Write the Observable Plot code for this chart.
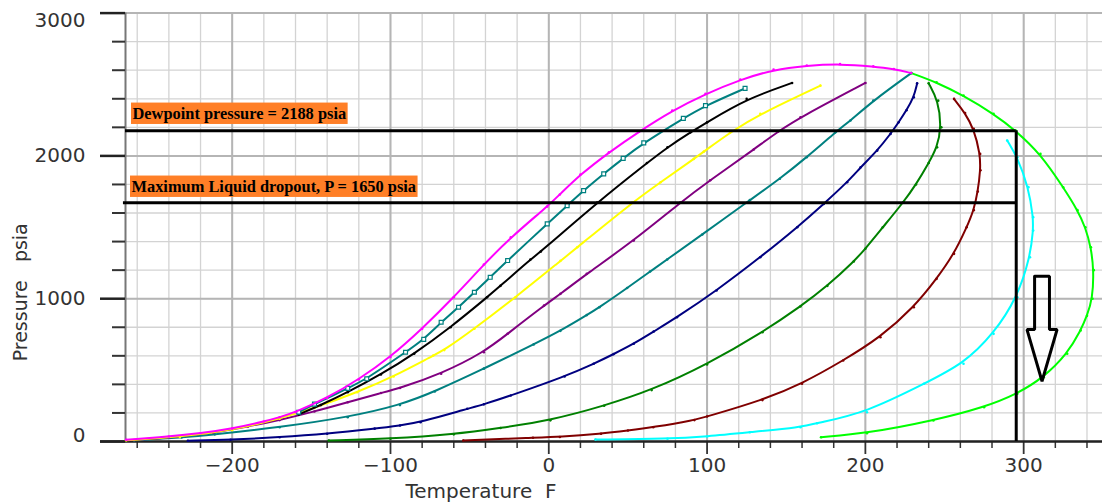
<!DOCTYPE html>
<html><head><meta charset="utf-8">
<script src="https://cdn.jsdelivr.net/npm/d3@7"></script>
<script src="https://cdn.jsdelivr.net/npm/@observablehq/plot@0.6"></script>
<style>html,body{margin:0;padding:0;background:#fff;} #chart svg{display:block}</style>
</head><body><div id="chart"></div>
<script>
// ---- Data (Temperature F, Pressure psia) ----
const bubbleCurve = [[-267,12],[-240,35],[-220,58],[-200,90],[-180,140],[-170,170],[-160,205],[-140,305],[-120,435],[-100,592],[-80,790],[-60,1010],[-41,1240],[-24,1430],[-1,1645],[7,1730],[20,1870],[38,2025],[57,2170],[78,2317],[99,2434],[121,2534],[142,2604],[163,2632],[184,2644],[205,2627],[218,2609],[229,2580]];
const dewCurve = [[229,2580],[245,2515],[262,2422],[281,2294],[295,2177],[310.6,2014],[325,1780],[334,1620],[339,1500],[342.5,1360],[344.3,1200],[343.5,1000],[340,880],[336,777],[327.5,614],[312.7,450],[296,334],[275,240],[243,147],[201,58],[172,30]];
const qTeal1 = [[-158,205],[-148,262],[-127,372],[-115,439],[-90.5,625],[-79,715],[-68,835],[-57,940],[-47,1045],[-37,1150],[-26,1267],[-1,1524],[11.6,1652],[22,1757],[34.7,1874],[47,1983],[60,2091],[85,2263],[99,2352],[124,2473]];
const qBlack = [[-158,189],[-144,255],[-127,345],[-106,470],[-85,614],[-62,800],[-39,1010],[-30.5,1090],[-11.6,1275],[-5,1330],[30.5,1673],[62,1950],[75,2060],[89.5,2165],[100,2235],[125,2399],[153.7,2511]];
const qYellow = [[-267,8],[-233,32],[-200,80],[-170,160],[-148,235],[-121,345],[-98,455],[-73,602],[-66,640],[-47,790],[-21,1010],[7.4,1265],[18,1360],[52.7,1673],[70.6,1815],[91.6,1979],[98,2030],[114.6,2165],[133.6,2294],[171.6,2492]];
const qPurple = [[-262,10],[-233,35],[-212,62],[-190,105],[-170,150],[-148,210],[-127,275],[-106,340],[-94,375],[-68,474],[-41,625],[-26,755],[-3,952],[7.4,1034],[24,1174],[53.7,1407],[83,1673],[102,1830],[129.5,2045],[145,2172],[159,2271],[200,2511]];
const qTeal2 = [[-262,8],[-232,28],[-211,50],[-170,100],[-127,170],[-94,255],[-72,350],[-41,510],[-9.5,680],[7.4,775],[24,885],[32,940],[49.5,1075],[64,1190],[74.8,1275],[97,1450],[127,1690],[146,1840],[163,1991],[181,2165],[190.6,2248],[205,2387],[229,2580]];
const qNavy = [[-228,5],[-201,12],[-170,30],[-140,54],[-110,90],[-94,112],[-81,135],[-51.5,229],[-41,260],[-24,322],[10,455],[28.4,544],[41,612],[53.7,684],[66.3,770],[81,870],[106,1057],[133.6,1290],[157,1500],[173.7,1664],[188.5,1815],[197,1920],[207.5,2037],[215.9,2154],[221,2235],[226,2320],[230.6,2410],[232.7,2508]];
const qGreen = [[-139,7],[-100,19],[-60,50],[-30.5,95],[1,148],[35,250],[65,360],[100,540],[135,765],[159,945],[176,1090],[192.7,1260],[200,1350],[211,1500],[224,1675],[232,1800],[240,1950],[245.3,2060],[248,2200],[246,2387],[240,2508]];
const qDarkRed = [[-54,7],[-10,26],[7,32],[33,54],[50,77],[66,100],[92,150],[100,175],[135,290],[160,405],[186,567],[209.5,730],[230.6,940],[245,1139],[256,1314],[264,1500],[268.5,1620],[271,1750],[272.7,1900],[272.5,2014],[268.5,2189],[263,2300],[256,2399]];
const qCyan = [[29.5,14],[75,19],[100,35],[127,65],[159,100],[169.5,128],[201,205],[237,404],[262,544],[281,754],[296,1010],[304,1290],[306,1477],[306,1571],[303,1781],[296,1991],[289.6,2108]];

const xTicks = [-200, -100, 0, 100, 200, 300];
const yTicks = [0, 1000, 2000, 3000];

const dewpointP = 2176;       // drawn dewpoint line
const maxDropoutP = 1672;     // drawn max liquid dropout line
const reservoirT = 295.3;     // vertical line
const dewLabel = "Dewpoint pressure = 2188 psia";
const dropLabel = "Maximum Liquid dropout, P = 1650 psia";
const arrowSpec = {t: 311.6, top: 1158, shoulder: 784, tip: 422, shaftHalf: 4.7, headHalf: 9.5};

// ---- Styles ----
const curves = [
  {pts: qCyan, color: "#00ffff"},
  {pts: qDarkRed, color: "#800000"},
  {pts: qGreen, color: "#008000"},
  {pts: qNavy, color: "#000080"},
  {pts: qTeal2, color: "#008080"},
  {pts: qPurple, color: "#800080"},
  {pts: qYellow, color: "#ffff00"},
  {pts: qBlack, color: "#000000"},
  {pts: qTeal1, color: "#008080", square: true},
  {pts: dewCurve, color: "#00ff00"},
  {pts: bubbleCurve, color: "#ff00ff"}
];

const xMin = -267.4, xMax = 349.8;
const xGrid = d3.range(-260, 350, 20);
const yGrid = d3.range(0, 3001, 200);
const xMinor = xGrid.filter(v => v % 100 !== 0);
const yMinor = yGrid.filter(v => v % 1000 !== 0);
const fmt = d => d < 0 ? "\u2212" + Math.abs(d) : String(d);
const axisFont = "DejaVu Sans";

const marks = [
  Plot.ruleX(xGrid, {stroke: "#d3d3d3", strokeWidth: 1.3}),
  Plot.ruleY(yGrid, {stroke: "#d3d3d3", strokeWidth: 1.3}),
  Plot.ruleX(xTicks, {stroke: "#b5b5b5", strokeWidth: 2}),
  Plot.ruleY(yTicks.filter(v => v > 0), {stroke: "#b5b5b5", strokeWidth: 2}),
  Plot.ruleX([xMin], {y1: 0, y2: 3000, stroke: "#777", strokeWidth: 2}),
  Plot.axisX(xMinor, {tickSize: 7, tickFormat: () => "", color: "#333", strokeWidth: 1.5, label: null}),
  Plot.axisX(xTicks, {tickSize: 13, tickPadding: 3, tickFormat: fmt, fontSize: 20, fontFamily: axisFont, color: "#333", strokeWidth: 1.8, label: null}),
  Plot.axisY(yMinor, {tickSize: 13, tickFormat: () => "", color: "#333", strokeWidth: 2, label: null}),
  Plot.axisY(yTicks, {tickSize: 25, tickFormat: () => "", color: "#222", strokeWidth: 2.5, label: null}),
  Plot.text(yTicks.filter(v => v > 0 && v < 3000), {x: xMin, y: d => d, text: d => String(d), dx: -40, textAnchor: "end", lineAnchor: "middle", fontSize: 20, fontFamily: axisFont, fill: "#333"}),
  Plot.text([0], {x: xMin, y: d => d, text: d => String(d), dx: -40, dy: -6, textAnchor: "end", lineAnchor: "middle", fontSize: 20, fontFamily: axisFont, fill: "#333"}),
  Plot.text([3000], {x: xMin, y: d => d, text: d => String(d), dx: -40, dy: 7, textAnchor: "end", lineAnchor: "middle", fontSize: 20, fontFamily: axisFont, fill: "#333"}),
  Plot.ruleY([0], {x1: -283.2, x2: xMax, stroke: "#222", strokeWidth: 2.5}),
  Plot.text(["Temperature\u00a0\u00a0F"], {frameAnchor: "bottom-left", dx: 280, dy: 50, textAnchor: "start", lineAnchor: "middle", fontSize: 20, fontFamily: axisFont, fill: "#333"}),
  Plot.text(["Pressure\u00a0\u00a0\u00a0psia"], {frameAnchor: "left", rotate: -90, dx: -105, dy: 65, textAnchor: "middle", lineAnchor: "middle", fontSize: 19, fontFamily: axisFont, fill: "#333"})
];

for (const c of curves) {
  marks.push(Plot.line(c.pts, {x: d => d[0], y: d => d[1], stroke: c.color, strokeWidth: 2, curve: "basis"}));
  if (c.square) {
    marks.push(Plot.dot(c.pts, {x: d => d[0], y: d => d[1], symbol: "square", r: 2.2, stroke: c.color, fill: "white", strokeWidth: 1.2}));
  } else {
    marks.push(Plot.dot(c.pts, {x: d => d[0], y: d => d[1], r: 1.3, fill: c.color, stroke: "none"}));
  }
}

// annotation lines
marks.push(Plot.ruleY([dewpointP], {x1: xMin, x2: reservoirT, stroke: "black", strokeWidth: 3}));
marks.push(Plot.ruleY([maxDropoutP], {x1: -268.7, x2: reservoirT, stroke: "black", strokeWidth: 3}));
marks.push(Plot.ruleX([reservoirT], {y1: 0, y2: dewpointP, stroke: "black", strokeWidth: 3}));

// hollow arrow
const a = arrowSpec;
const arrowPts = [
  [a.t - a.shaftHalf, a.top], [a.t + a.shaftHalf, a.top], [a.t + a.shaftHalf, a.shoulder],
  [a.t + a.headHalf, a.shoulder], [a.t, a.tip], [a.t - a.headHalf, a.shoulder],
  [a.t - a.shaftHalf, a.shoulder], [a.t - a.shaftHalf, a.top]
];
marks.push(Plot.line(arrowPts, {x: d => d[0], y: d => d[1], stroke: "black", strokeWidth: 3, strokeLinejoin: "miter", curve: "linear"}));

// orange labels
marks.push(Plot.text([dewLabel], {x: xMin, y: dewpointP, text: d => d, dx: 7, dy: -12, textAnchor: "start", lineAnchor: "bottom", fontFamily: "Liberation Serif", fontWeight: "bold", fontSize: 16.4, fill: "black"}));
marks.push(Plot.text([dropLabel], {x: xMin, y: maxDropoutP, text: d => d, dx: 6, dy: -11, textAnchor: "start", lineAnchor: "bottom", fontFamily: "Liberation Serif", fontWeight: "bold", fontSize: 16.4, fill: "black"}));

const chart = Plot.plot({
  width: 1102, height: 504,
  marginLeft: 125, marginRight: 0, marginTop: 12.6, marginBottom: 63,
  x: {domain: [xMin, xMax]},
  y: {domain: [0, 3000]},
  style: {background: "white", fontFamily: axisFont, overflow: "hidden"},
  marks
});
document.getElementById("chart").appendChild(chart);

// orange background boxes behind annotation labels
for (const t of chart.querySelectorAll("text")) {
  if (t.textContent === dewLabel || t.textContent === dropLabel) {
    const b = t.getBBox();
    const r = document.createElementNS("http://www.w3.org/2000/svg", "rect");
    r.setAttribute("x", b.x - 1.5);
    r.setAttribute("y", b.y - 1.2);
    r.setAttribute("width", b.width + 3);
    r.setAttribute("height", b.height + 2.4);
    r.setAttribute("fill", "#ff7f27");
    const tr = t.getAttribute("transform");
    if (tr) r.setAttribute("transform", tr);
    t.parentNode.insertBefore(r, t);
  }
}
</script>
</body></html>
